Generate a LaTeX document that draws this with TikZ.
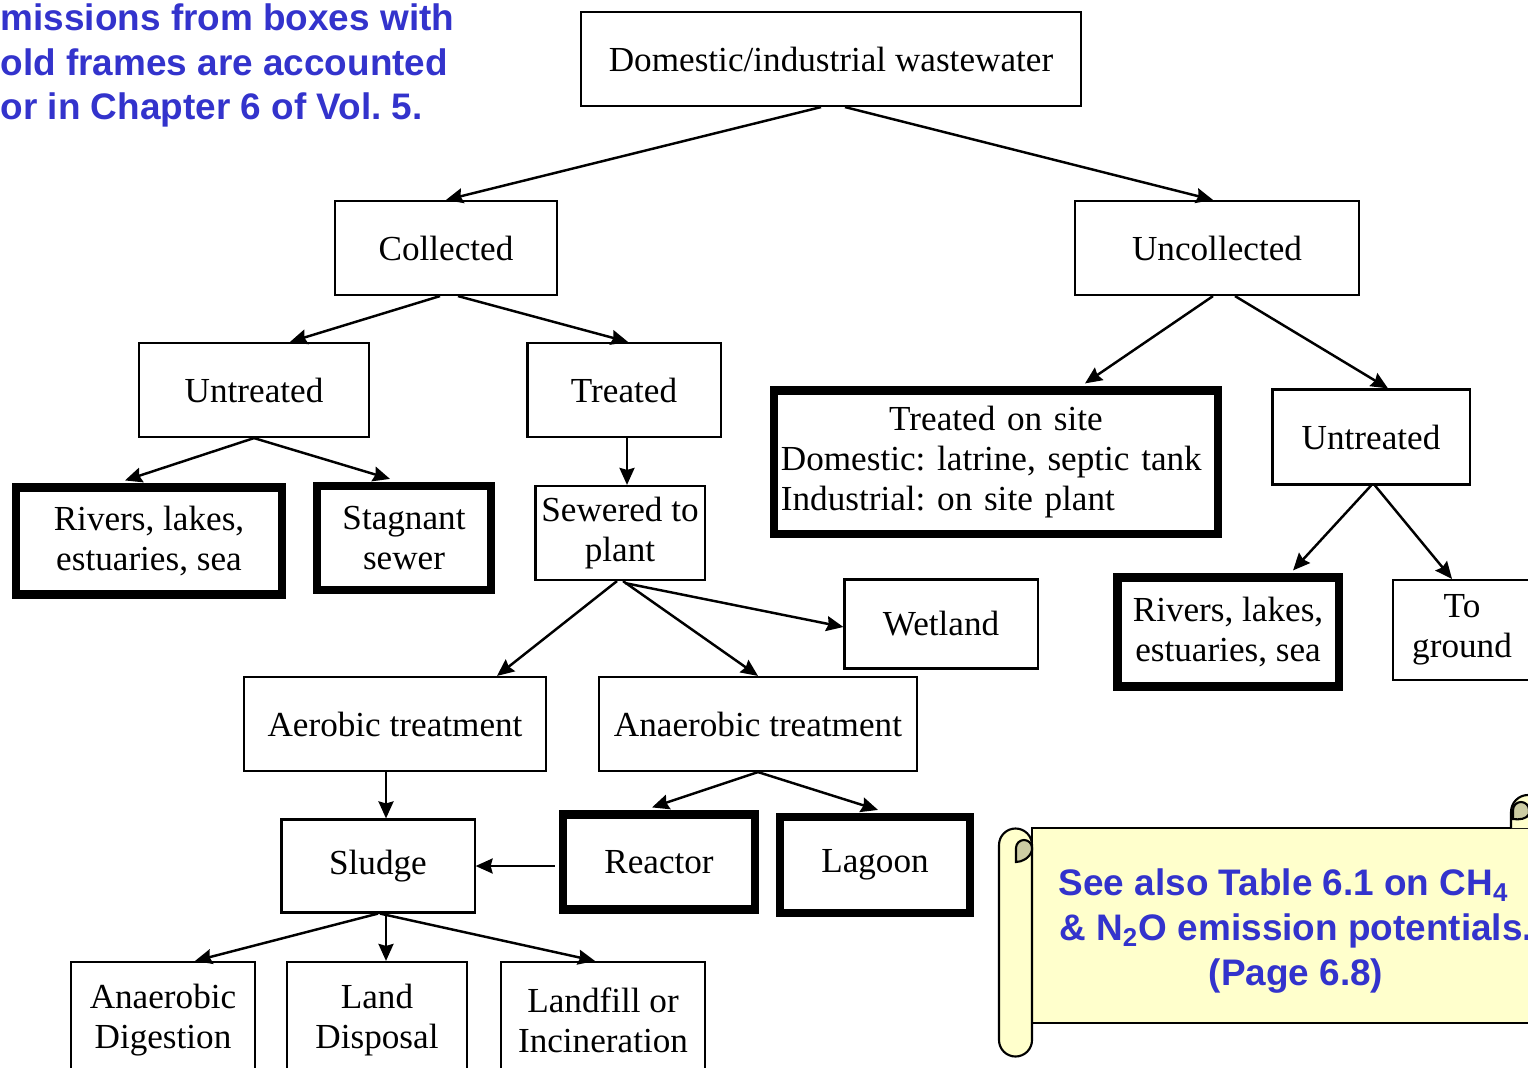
\documentclass[tikz,border=0pt]{standalone}
\usepackage{fontspec}
\setmainfont{Liberation Serif}
\setsansfont{Liberation Sans}
\usetikzlibrary{arrows.meta,calc}
\definecolor{noteblue}{RGB}{51,51,204}
\definecolor{scrollfill}{RGB}{255,255,204}
\definecolor{scrollcurl}{RGB}{204,204,163}
\frenchspacing
\begin{document}
\begin{tikzpicture}[x=0.01cm,y=-0.01cm,
  box/.style={draw,line width=0.6pt,align=center,inner sep=1pt,font=\fontsize{10}{11.5}\selectfont},
  heavy/.style={box,line width=2.3pt},
  arr/.style={-{Stealth[length=0.17cm,width=0.15cm,inset=0.02cm]},line width=0.7pt},
  note/.style={text=noteblue,inner sep=0pt,font=\fontsize{10.5}{12.7}\selectfont\sffamily\bfseries}]
\clip (0,0) rectangle (1528,1067);
% tree of boxes
\node[box,minimum width=5cm,minimum height=0.94cm] (dom) at (831,59) {Domestic/industrial wastewater};
\node[box,minimum width=2.22cm,minimum height=0.94cm] (coll) at (446,248) {Collected};
\node[box,minimum width=2.84cm,minimum height=0.94cm] (uncoll) at (1217,248) {Uncollected};
\node[box,minimum width=2.3cm,minimum height=0.94cm] (untrL) at (254,390) {Untreated};
\node[box,minimum width=1.93cm,minimum height=0.94cm] (treat) at (624,390) {Treated};
\node[heavy,minimum width=4.43cm,minimum height=1.43cm,text width=4.3cm,align=left] (onsite) at (996,462)
  {{\centering Treated on site\par}Domestic: latrine, septic tank\\Industrial: on site plant};
\node[box,minimum width=1.97cm,minimum height=0.95cm] (untrR) at (1371,437) {Untreated};
\node[heavy,minimum width=2.66cm,minimum height=1.07cm] (riversL) at (149,541) {Rivers, lakes,\\estuaries, sea};
\node[heavy,minimum width=1.74cm,minimum height=1.04cm] (stag) at (404,538) {Stagnant\\sewer};
\node[box,minimum width=1.69cm,minimum height=0.94cm] (sewer) at (620,533) {Sewered to\\plant};
\node[box,minimum width=1.93cm,minimum height=0.89cm] (wet) at (941,624) {Wetland};
\node[heavy,minimum width=2.21cm,minimum height=1.09cm] (riversR) at (1228,632) {Rivers, lakes,\\estuaries, sea};
\node[box,minimum width=1.38cm,minimum height=1cm] (ground) at (1462,630) {To\\ground};
\node[box,minimum width=3.01cm,minimum height=0.94cm] (aer) at (395,724) {Aerobic treatment};
\node[box,minimum width=3.18cm,minimum height=0.94cm] (anaer) at (758,724) {Anaerobic treatment};
\node[box,minimum width=1.93cm,minimum height=0.93cm] (sludge) at (378,866) {Sludge};
\node[heavy,minimum width=1.92cm,minimum height=0.95cm] (reactor) at (659,862) {Reactor};
\node[heavy,minimum width=1.9cm,minimum height=0.96cm] (lagoon) at (875,865) {Lagoon};
\node[box,minimum width=1.84cm,minimum height=1.16cm] (anadig) at (163,1020) {Anaerobic\\Digestion};
\node[box,minimum width=1.8cm,minimum height=1.16cm] (land) at (377,1020) {Land\\Disposal};
\node[box,minimum width=2.04cm,minimum height=1.16cm] (fill) at (603,1020) {Landfill or\\Incineration};
% connectors
\draw[arr] ($(dom.south)+(-10,0)$) -- (coll.north);
\draw[arr] ($(dom.south)+(14,0)$) -- ($(uncoll.north)+(-4,0)$);
\draw[arr] ($(coll.south)+(-6,0)$) -- ($(untrL.north)+(36,0)$);
\draw[arr] ($(coll.south)+(12,0)$) -- ($(treat.north)+(4,0)$);
\draw[arr] (untrL.south) -- ($(riversL.north)+(-24,-3)$);
\draw[arr] (untrL.south) -- ($(stag.north)+(-14,-3)$);
\draw[arr] ($(treat.south)+(3,0)$) -- ($(sewer.north)+(7,0)$);
\draw[arr] ($(uncoll.south)+(-4,0)$) -- ($(onsite.north)+(89,-3)$);
\draw[arr] ($(uncoll.south)+(18,0)$) -- ($(untrR.north)+(17,0)$);
\draw[arr] (untrR.south) -- ($(riversR.north)+(65,-3)$);
\draw[arr] ($(untrR.south)+(4,0)$) -- ($(ground.north)+(-10,0)$);
\draw[arr] ($(sewer.south)+(-3,0)$) -- ($(aer.north)+(102,0)$);
\draw[arr] ($(sewer.south)+(3,0)$) -- (anaer.north);
\draw[arr] ($(sewer.south)+(5,2)$) -- ($(wet.west)+(0,3)$);
\draw[arr] ($(aer.south)+(-9,0)$) -- ($(sludge.north)+(8,0)$);
\draw[arr] (anaer.south) -- ($(reactor.north)+(-7,-3)$);
\draw[arr] (anaer.south) -- ($(lagoon.north)+(3,-3)$);
\draw[arr] ($(reactor.west |- sludge.east)+(-4,0)$) -- (sludge.east);
\draw[arr] (sludge.south) -- ($(anadig.north)+(32,0)$);
\draw[arr] ($(sludge.south)+(8,0)$) -- ($(land.north)+(9,0)$);
\draw[arr] ($(sludge.south)+(2,0)$) -- ($(fill.north)+(-8,0)$);
% scroll
\draw[fill=scrollfill,line width=0.6pt] (1032,828) rectangle (1560,1023);
\draw[fill=scrollfill,line width=0.6pt] (1511,828) -- (1511,812) arc[start angle=180,end angle=0,radius=0.17cm] -- (1545,828);
\draw[fill=scrollcurl,line width=0.6pt] (1513,819) -- (1513,810) arc[start angle=180,end angle=0,radius=0.08cm] -- (1529,814) .. controls (1527,819) and (1519,820) .. (1513,819) -- cycle;
\draw[fill=scrollfill,line width=0.6pt] (999,845) arc[start angle=180,end angle=0,radius=0.165cm] -- (1032,1040) arc[start angle=0,end angle=-180,radius=0.165cm] -- cycle;
\draw[fill=scrollcurl,line width=0.6pt] (1016,862) -- (1016,848) arc[start angle=180,end angle=0,radius=0.08cm] -- (1032,850) .. controls (1030,858) and (1022,862) .. (1016,862) -- cycle;
\node[note,align=center] (see) at (1296,931) {See also Table 6.1 on CH\textsubscript{4}\kern0.24cm\\\& N\textsubscript{2}O emission potentials.\\(Page 6.8)};
% remark in the corner
\node[note,align=left,anchor=north west] (remark) at (0,3) {missions from boxes with\\old frames are accounted\\or in Chapter 6 of Vol. 5.};
\end{tikzpicture}
\end{document}
